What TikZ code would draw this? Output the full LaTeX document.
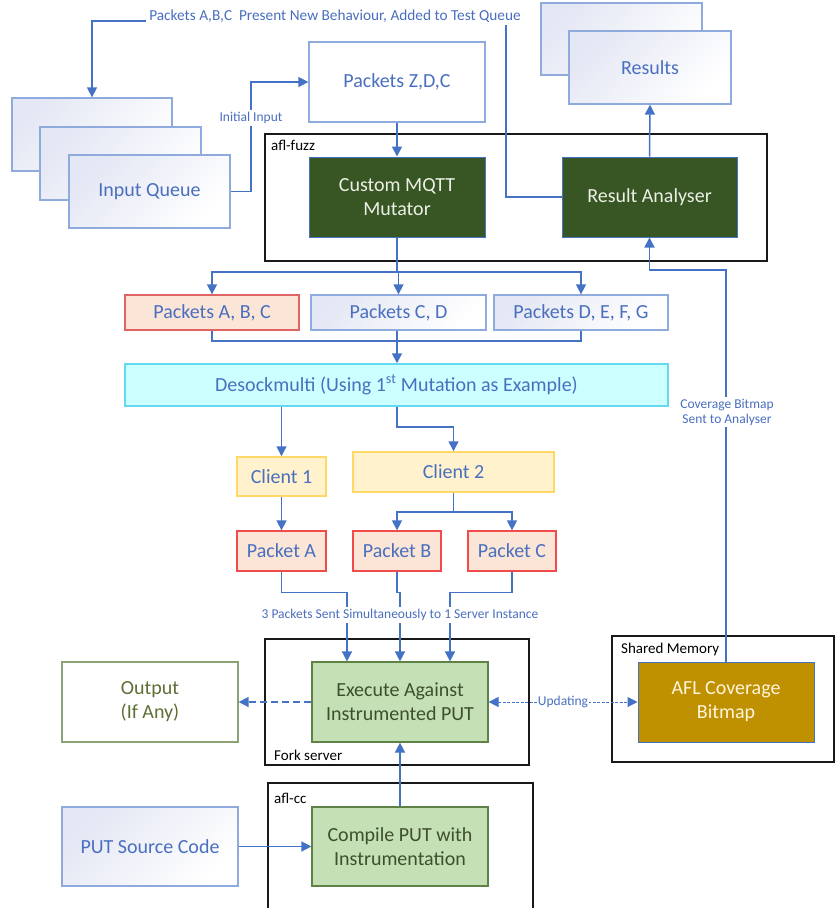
\documentclass[tikz,border=0pt]{standalone}
\usepackage{fontspec}
\setmainfont{Carlito}
\usetikzlibrary{arrows.meta,calc}

\definecolor{connblue}{HTML}{4472C4}
\definecolor{lightedge}{HTML}{8FAADC}
\definecolor{lavender}{HTML}{E4E7F4}
\definecolor{txtblue}{HTML}{4A6FBF}
\definecolor{peach}{HTML}{FBE5D6}
\definecolor{peachedge}{HTML}{E06464}
\definecolor{rededge}{HTML}{F24B4B}
\definecolor{cyanfill}{HTML}{CCFFFF}
\definecolor{cyanedge}{HTML}{66D9F2}
\definecolor{creamfill}{HTML}{FFF2CC}
\definecolor{goldedge}{HTML}{FFD966}
\definecolor{mossfill}{HTML}{C5E0B4}
\definecolor{mossedge}{HTML}{5E8246}
\definecolor{mosstext}{HTML}{3E4F2C}
\definecolor{outedge}{HTML}{8BA274}
\definecolor{outtext}{HTML}{5E6F34}
\definecolor{forest}{HTML}{375623}
\definecolor{foresttext}{HTML}{ECEFE6}
\definecolor{ochre}{HTML}{BF9000}
\definecolor{ochretext}{HTML}{FFF5DC}

\begin{document}
\begin{tikzpicture}[x=1pt,y=-1pt,
  boxtext/.style={font=\fontsize{20}{24}\selectfont, align=center, inner sep=2pt},
  lightbox/.style={boxtext, draw=lightedge, line width=1.3pt, text=txtblue,
    top color=lavender, bottom color=white, shading angle=45},
  plainbox/.style={boxtext, draw=lightedge, line width=1.3pt, text=txtblue, fill=white},
  darkbox/.style={boxtext, draw=connblue, line width=1pt, fill=forest, text=foresttext},
  peachbox/.style={boxtext, draw=peachedge, line width=1.3pt, fill=peach, text=txtblue},
  redbox/.style={boxtext, draw=rededge, line width=1.3pt, fill=peach, text=txtblue},
  cyanbox/.style={boxtext, draw=cyanedge, line width=1.5pt, fill=cyanfill, text=txtblue},
  yellowbox/.style={boxtext, draw=goldedge, line width=1.5pt, fill=creamfill, text=txtblue},
  greenbox/.style={boxtext, draw=mossedge, line width=1.2pt, fill=mossfill, text=mosstext},
  outbox/.style={boxtext, draw=outedge, line width=1.2pt, fill=white, text=outtext},
  goldbox/.style={boxtext, draw=connblue, line width=1pt, fill=ochre, text=ochretext},
  grpbox/.style={draw=black!90, line width=1.8pt},
  grplabel/.style={font=\fontsize{15}{17}\selectfont, anchor=west, inner sep=0pt, text=black},
  conn/.style={draw=connblue, line width=1.5pt},
  arr/.style={conn, -{Triangle[length=10pt,width=10pt]}},
  darr/.style={conn, {Triangle[length=10pt,width=10pt]}-{Triangle[length=10pt,width=10pt]}},
  smalllabel/.style={font=\fontsize{13.5}{15}\selectfont, text=txtblue, fill=white, inner sep=2pt, align=center},
  toplabel/.style={font=\fontsize{15.3}{17}\selectfont, text=txtblue, fill=white, inner sep=3pt}
]
\useasboundingbox (0,0) rectangle (835,908);

% process groups
\draw[grpbox] (265,134) rectangle (767,261);
\draw[grpbox] (265,639) rectangle (529,765);
\draw[grpbox] (612,636) rectangle (834,762);
\draw[grpbox] (268,915) -- (268,783) -- (533,783) -- (533,915);
\node[grplabel] (lblfuzz) at (271,145) {afl-fuzz};
\node[grplabel] (lblfork) at (274,755) {Fork server};
\node[grplabel] (lblcc) at (274,798) {afl-cc};
\node[grplabel] (lblshm) at (621,649) {Shared Memory};

% input queue stack
\node[lightbox, minimum width=160, minimum height=73] (qback) at (92,134.5) {};
\node[lightbox, minimum width=161, minimum height=73] (qmid) at (120.5,163.5) {};
\node[lightbox, minimum width=161, minimum height=73] (qfront) at (149.5,191.5) {Input Queue};

% results stack
\node[lightbox, minimum width=161, minimum height=72] (resback) at (621.5,39) {};
\node[lightbox, minimum width=162, minimum height=73] (res) at (650,67.5) {Results};

\node[plainbox, minimum width=176, minimum height=80] (pzdc) at (397,82) {Packets Z,D,C};
\node[darkbox, minimum width=176, minimum height=80] (mut) at (397,197) {Custom MQTT\\Mutator};
\node[darkbox, minimum width=175, minimum height=80] (ra) at (649.5,197) {Result Analyser};

% mutations
\node[peachbox, minimum width=174, minimum height=35] (pabc) at (212,312.5) {Packets A, B, C};
\node[lightbox, minimum width=175, minimum height=35] (pcd) at (398.5,312.5) {Packets C, D};
\node[lightbox, minimum width=174, minimum height=35] (pdefg) at (581,312.5) {Packets D, E, F, G};

\node[cyanbox, minimum width=543, minimum height=42] (desock) at (396.5,385)
  {Desockmulti (Using 1\textsuperscript{st} Mutation as Example)};

% clients and their packets
\node[yellowbox, minimum width=89, minimum height=39] (c1) at (281.5,476.5) {Client 1};
\node[yellowbox, minimum width=201, minimum height=40] (c2) at (453.5,472) {Client 2};
\node[redbox, minimum width=89, minimum height=40] (pa) at (281.5,551) {Packet A};
\node[redbox, minimum width=88, minimum height=40] (pb) at (397,551) {Packet B};
\node[redbox, minimum width=88, minimum height=40] (pc) at (512,551) {Packet C};

% execution side
\node[outbox, minimum width=176, minimum height=80] (out) at (150,702) {Output\\(If Any)};
\node[greenbox, minimum width=176, minimum height=80] (exec) at (400,702) {Execute Against\\Instrumented PUT};
\node[goldbox, minimum width=176, minimum height=80] (afl) at (726,702) {AFL Coverage\\Bitmap};
\node[lightbox, minimum width=176, minimum height=79] (src) at (150,846.5) {PUT Source Code};
\node[greenbox, minimum width=176, minimum height=79] (comp) at (400,846.5) {Compile PUT with\\Instrumentation};

% junction points
\coordinate (fbR) at (506,21);
\coordinate (fbL) at (92,21);
\coordinate (iniX) at (251,191.5);
\coordinate (split1) at (397,272);
\coordinate (join1) at (397,341);
\coordinate (dsplit) at (397,427);
\coordinate (split2) at (453.5,512);
\coordinate (covturn) at (726,270);

% connectors
\draw[arr] (ra.west) -| (fbR) -- (fbL) -- (fbL |- qback.north);
\draw[arr] (qfront.east) -- (iniX) |- (pzdc.west);
\draw[arr] (pzdc.south) -- (mut.north);
\draw[arr] (ra.north) -- (res.south);

\draw[conn] (mut.south) -- (split1);
\draw[arr] (split1) -| (pabc.north);
\draw[arr] (split1) -- (split1 -| pcd.north) -- (pcd.north);
\draw[arr] (split1) -| (pdefg.north);

\draw[conn] (pabc.south) |- (join1);
\draw[conn] (pdefg.south) |- (join1);
\draw[arr] (join1 |- pcd.south) -- (join1 |- desock.north);

\draw[arr] (desock.south -| c1.north) -- (c1.north);
\draw[arr] (desock.south -| dsplit) -- (dsplit) -| (c2.north);
\draw[arr] (c1.south) -- (pa.north);
\draw[conn] (c2.south) -- (split2);
\draw[arr] (split2) -| (pb.north);
\draw[arr] (split2) -| (pc.north);

\draw[arr] (pa.south) -- ++(0,21) -| ($(exec.north)+(-53,0)$);
\draw[arr] (pb.south) -- ++(0,21) -| (exec.north);
\draw[arr] (pc.south) -- ++(0,21) -| ($(exec.north)+(50,0)$);

\draw[arr, dash pattern=on 7pt off 4pt] (exec.west) -- (out.east);
\draw[darr, line width=1pt, dash pattern=on 3pt off 1.5pt] (exec.east) -- (afl.west);
\draw[arr] (afl.north) -- (covturn) -| (ra.south);
\draw[arr] (comp.north) -- (exec.south);
\draw[arr] (src.east) -- (comp.west);

% connector labels
\node[toplabel] (lblfb) at (335,16) {Packets A,B,C\ \ Present New Behaviour, Added to Test Queue};
\node[smalllabel] (lblinit) at (251,118) {Initial Input};
\node[smalllabel] (lblsent) at (400,615) {3 Packets Sent Simultaneously to 1 Server Instance};
\node[smalllabel, inner sep=1pt] (lblupd) at (563,702) {Updating};
\node[smalllabel] (lblcov) at (727,412) {Coverage Bitmap\\Sent to Analyser};
\end{tikzpicture}
\end{document}
